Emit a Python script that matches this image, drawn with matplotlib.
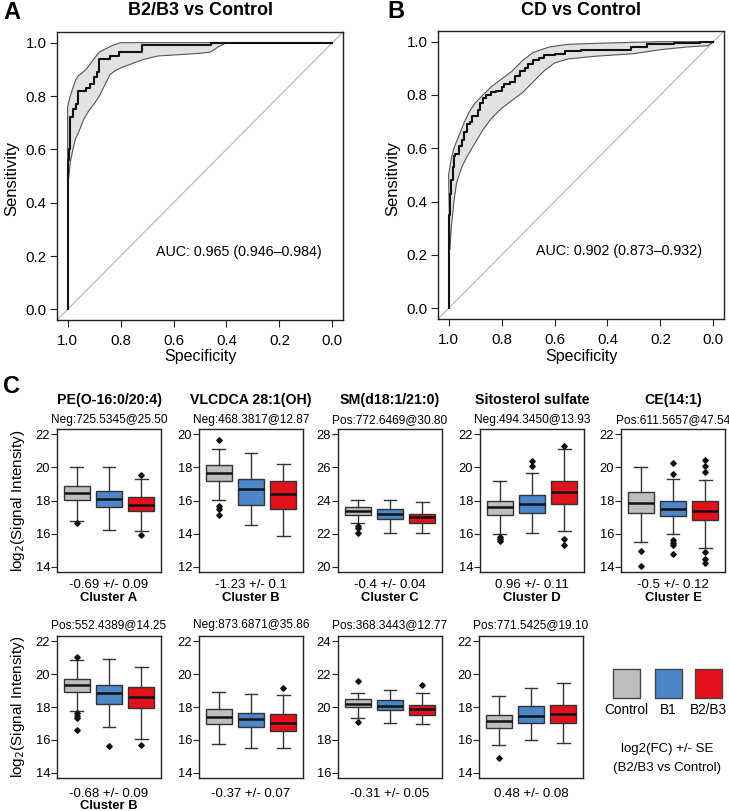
#!/usr/bin/env python3
# -*- coding: utf-8 -*-
"""
ROC 曲线 + 代谢物箱线图 复刻
"""

import matplotlib
matplotlib.use('Agg')
import matplotlib.pyplot as plt
from matplotlib.patches import Rectangle

plt.rcParams['font.family'] = ['Liberation Sans', 'DejaVu Sans']

W, H = 729, 811

# ---------- ROC 数据 (specificity, sensitivity) ----------
roc_a_spec = [1.0, 1.0, 0.995, 0.995, 0.99, 0.99, 0.98, 0.98, 0.97, 0.97, 0.962, 0.962,
              0.931, 0.931, 0.915, 0.915, 0.90, 0.90, 0.89, 0.89, 0.88, 0.88, 0.84, 0.84,
              0.805, 0.805, 0.72, 0.72, 0.46, 0.46, 0.0]
roc_a_sens = [0.0, 0.56, 0.56, 0.60, 0.60, 0.72, 0.72, 0.75, 0.75, 0.77, 0.77, 0.82,
              0.82, 0.83, 0.83, 0.845, 0.845, 0.87, 0.87, 0.89, 0.89, 0.937, 0.937, 0.95,
              0.95, 0.965, 0.965, 0.99, 0.99, 1.0, 1.0]
ci_a_up_spec = [1.0, 0.99, 0.98, 0.97, 0.96, 0.93, 0.90, 0.88, 0.86, 0.83, 0.80, 0.0]
ci_a_up_sens = [0.76, 0.80, 0.83, 0.86, 0.875, 0.90, 0.94, 0.965, 0.975, 0.99, 1.0, 1.0]
ci_a_lo_spec = [1.0, 0.995, 0.99, 0.98, 0.97, 0.96, 0.94, 0.92, 0.90, 0.88, 0.86, 0.84,
                0.82, 0.80, 0.76, 0.72, 0.66, 0.58, 0.50, 0.46, 0.43, 0.40, 0.0]
ci_a_lo_sens = [0.47, 0.50, 0.55, 0.60, 0.64, 0.66, 0.71, 0.745, 0.77, 0.80, 0.84, 0.88,
                0.895, 0.905, 0.92, 0.935, 0.95, 0.955, 0.96, 0.965, 0.985, 1.0, 1.0]

roc_b_spec = [1.0, 1.0, 0.995, 0.99, 0.985, 0.98, 0.975, 0.96, 0.95, 0.94, 0.93, 0.92,
              0.91, 0.89, 0.88, 0.87, 0.86, 0.84, 0.82, 0.80, 0.79, 0.77, 0.75, 0.73,
              0.71, 0.70, 0.68, 0.66, 0.64, 0.60, 0.56, 0.50, 0.40, 0.31, 0.25, 0.15,
              0.05, 0.0]
roc_b_sens = [0.0, 0.27, 0.35, 0.43, 0.48, 0.53, 0.57, 0.58, 0.61, 0.63, 0.66, 0.69,
              0.70, 0.72, 0.745, 0.77, 0.79, 0.80, 0.81, 0.815, 0.83, 0.84, 0.85, 0.87,
              0.89, 0.90, 0.915, 0.93, 0.94, 0.95, 0.955, 0.965, 0.968, 0.968, 0.98, 0.99,
              0.995, 1.0]
ci_b_up_spec = [1.0, 0.99, 0.98, 0.96, 0.94, 0.92, 0.90, 0.87, 0.84, 0.80, 0.76, 0.72,
                0.68, 0.62, 0.55, 0.40, 0.20, 0.0]
ci_b_up_sens = [0.50, 0.56, 0.60, 0.65, 0.70, 0.74, 0.77, 0.80, 0.83, 0.86, 0.89, 0.93,
                0.96, 0.98, 0.99, 0.995, 1.0, 1.0]
ci_b_lo_spec = [0.995, 0.99, 0.98, 0.97, 0.95, 0.93, 0.90, 0.87, 0.84, 0.80, 0.76, 0.72,
                0.68, 0.64, 0.60, 0.55, 0.45, 0.30, 0.20, 0.10, 0.02, 0.0]
ci_b_lo_sens = [0.22, 0.30, 0.40, 0.47, 0.53, 0.57, 0.62, 0.67, 0.71, 0.75, 0.78, 0.81,
                0.85, 0.89, 0.92, 0.935, 0.945, 0.955, 0.97, 0.98, 0.985, 1.0]

roc_titles = ['B2/B3 vs Control', 'CD vs Control']
auc_texts = ['AUC: 0.965 (0.946\u20130.984)', 'AUC: 0.902 (0.873\u20130.932)']

# ---------- 箱线图数据 (Control, B1, B2/B3) ----------
titles = ['PE(O-16:0/20:4)', 'VLCDCA 28:1(OH)', 'SM(d18:1/21:0)', 'Sitosterol sulfate',
          'CE(14:1)', '', '', '', '']
features = ['Neg:725.5345@25.50', 'Neg:468.3817@12.87', 'Pos:772.6469@30.80',
            'Neg:494.3450@13.93', 'Pos:611.5657@47.54', 'Pos:552.4389@14.25',
            'Neg:873.6871@35.86', 'Pos:368.3443@12.77', 'Pos:771.5425@19.10']
fold_changes = ['-0.69 +/- 0.09', '-1.23 +/- 0.1', '-0.4 +/- 0.04', '0.96 +/- 0.11',
                '-0.5 +/- 0.12', '-0.68 +/- 0.09', '-0.37 +/- 0.07', '-0.31 +/- 0.05',
                '0.48 +/- 0.08']
clusters = ['Cluster A', 'Cluster B', 'Cluster C', 'Cluster D', 'Cluster E',
            'Cluster B', '', '', '']
y_ranges = [(14, 22), (12, 20), (20, 28), (14, 22), (14, 22),
            (14, 22), (14, 22), (16, 24), (14, 22)]

medians = [[18.48, 18.10, 17.72], [17.67, 16.70, 16.41], [23.35, 23.17, 22.99],
           [17.59, 17.80, 18.53], [17.82, 17.51, 17.35], [19.35, 18.88, 18.63],
           [17.37, 17.29, 17.04], [20.21, 20.09, 19.87], [17.14, 17.45, 17.59]]
q1 = [[18.04, 17.62, 17.36], [17.15, 15.75, 15.46], [23.15, 22.87, 22.67],
      [17.14, 17.24, 17.80], [17.24, 17.04, 16.84], [18.90, 18.20, 17.96],
      [16.94, 16.76, 16.55], [19.99, 19.79, 19.53], [16.74, 17.00, 17.02]]
q3 = [[18.90, 18.60, 18.20], [18.14, 17.32, 17.18], [23.58, 23.49, 23.21],
      [18.00, 18.33, 19.18], [18.53, 18.00, 17.98], [19.69, 19.33, 19.24],
      [17.86, 17.65, 17.57], [20.46, 20.40, 20.15], [17.53, 18.07, 18.15]]
whis_lo = [[16.78, 16.20, 16.18], [16.02, 14.50, 13.86], [22.65, 22.06, 22.06],
           [16.00, 16.06, 16.18], [15.51, 16.00, 15.12], [17.78, 16.76, 16.08],
           [15.73, 15.51, 15.51], [19.34, 19.02, 18.98], [15.70, 15.97, 15.83]]
whis_hi = [[20.04, 20.02, 19.30], [19.11, 18.87, 18.19], [24.06, 24.04, 23.90],
           [19.20, 19.67, 21.14], [20.00, 19.29, 19.24], [20.84, 20.92, 20.41],
           [18.94, 18.78, 18.73], [20.86, 21.06, 20.86], [18.64, 19.17, 19.47]]
outliers = [
    [[16.66], [], [19.54, 15.94]],
    [[19.65, 15.67, 15.50, 15.11], [], []],
    [[22.44, 22.32, 22.04], [], []],
    [[15.80, 15.67, 15.53], [20.39, 20.06], [21.31, 15.67, 15.33]],
    [[14.96, 14.02], [20.27, 19.61, 15.61, 15.41, 15.29, 14.78],
     [20.47, 20.06, 19.71, 14.86, 14.45, 14.24]],
    [[21.02, 17.61, 17.47, 17.35, 16.63], [15.61], [15.67]],
    [[], [], [19.14]],
    [[21.61, 19.08], [], [21.31]],
    [[14.87], [], []],
]

groups = ['Control', 'B1', 'B2/B3']
group_colors = ['#BEBEBE', '#4A86C8', '#E3111B']


def px_axes(fig, x0, y0, x1, y1):
    """按像素位置添加坐标轴"""
    return fig.add_axes([x0 / W, 1 - y1 / H, (x1 - x0) / W, (y1 - y0) / H])


def draw_roc(ax, spec, sens, up_spec, up_sens, lo_spec, lo_sens, auc_text, step=False):
    ax.plot([1.04, -0.04], [-0.04, 1.04], color='#BBBBBB', lw=0.9, zorder=1)
    poly_x = list(up_spec) + list(lo_spec)[::-1]
    poly_y = list(up_sens) + list(lo_sens)[::-1]
    ax.fill(poly_x, poly_y, facecolor='#E2E2E2', edgecolor='#555555', lw=0.8, zorder=2)
    ax.plot(spec, sens, color='#111111', lw=1.5, zorder=3,
            drawstyle='steps-pre' if step else 'default')
    ax.text(0.355, 0.215, auc_text, ha='center', va='center', fontsize=10.3)
    ax.set_xlim(1.04, -0.04)
    ax.set_ylim(-0.04, 1.04)
    ticks = [0, 0.2, 0.4, 0.6, 0.8, 1.0]
    ax.set_xticks(ticks)
    ax.set_yticks(ticks)
    ax.set_xticklabels([f'{t:.1f}' for t in ticks])
    ax.set_yticklabels([f'{t:.1f}' for t in ticks])
    ax.tick_params(direction='out', length=5, width=0.8, labelsize=10.8, color='#222222')
    ax.tick_params(axis='x', pad=5)
    ax.tick_params(axis='y', pad=2.5)
    for s in ax.spines.values():
        s.set_color('#222222')
        s.set_linewidth(1.0)


def draw_box(ax, i):
    stats = []
    for g in range(3):
        stats.append({
            'med': medians[i][g], 'q1': q1[i][g], 'q3': q3[i][g],
            'whislo': whis_lo[i][g], 'whishi': whis_hi[i][g],
            'fliers': outliers[i][g],
        })
    bp = ax.bxp(stats, positions=[1, 2, 3], widths=0.8, capwidths=0.4,
                patch_artist=True, showfliers=True,
                boxprops=dict(edgecolor='#333333', linewidth=1.0),
                medianprops=dict(color='#111111', linewidth=1.8),
                whiskerprops=dict(color='#333333', linewidth=1.0),
                capprops=dict(color='#333333', linewidth=1.0),
                flierprops=dict(marker='D', markersize=2.8, markerfacecolor='#111111',
                                markeredgecolor='#111111', linestyle='none'))
    for patch, c in zip(bp['boxes'], group_colors):
        patch.set_facecolor(c)
    lo, hi = y_ranges[i]
    pad = (hi - lo) * 0.04
    ax.set_ylim(lo - pad, hi + pad)
    ax.set_yticks(list(range(lo, hi + 1, 2)))
    ax.set_xlim(0.38, 3.62)
    ax.set_xticks([])
    ax.tick_params(axis='y', direction='out', length=4, width=0.8, labelsize=9.3,
                   pad=1, color='#222222')
    for s in ax.spines.values():
        s.set_color('#222222')
        s.set_linewidth(1.0)


def main():
    fig = plt.figure(figsize=(W / 100, H / 100), dpi=100)

    # ROC 面板
    roc_boxes = [(57, 32, 343, 320), (438, 31, 724, 319)]
    roc_data = [
        (roc_a_spec, roc_a_sens, ci_a_up_spec, ci_a_up_sens, ci_a_lo_spec, ci_a_lo_sens),
        (roc_b_spec, roc_b_sens, ci_b_up_spec, ci_b_up_sens, ci_b_lo_spec, ci_b_lo_sens),
    ]
    for k, (bx, d) in enumerate(zip(roc_boxes, roc_data)):
        ax = px_axes(fig, *bx)
        draw_roc(ax, *d, auc_texts[k], step=(k == 1))
        cx = (bx[0] + bx[2]) / 2
        fig.text(cx / W, 1 - 15 / H, roc_titles[k], ha='center', va='baseline',
                 fontsize=13, fontweight='bold')
        fig.text(cx / W, 1 - 361 / H, 'Specificity', ha='center', va='baseline',
                 fontsize=11.5)
        fig.text((bx[0] - 45) / W, 1 - 179 / H, 'Sensitivity', ha='center', va='center',
                 rotation=90, fontsize=12)

    fig.text(3 / W, 1 - 19 / H, 'A', ha='left', va='baseline', fontsize=17, fontweight='bold')
    fig.text(387 / W, 1 - 18 / H, 'B', ha='left', va='baseline', fontsize=17, fontweight='bold')
    fig.text(3 / W, 1 - 393 / H, 'C', ha='left', va='baseline', fontsize=17, fontweight='bold')

    # 箱线图面板
    row_y = [(429, 572), (636, 778)]
    lefts = [[57, 199, 338, 480, 621], [57, 199, 338, 479]]
    sub_base = [423, 628]
    fc_base = [588, 797]
    cl_base = [601, 809]
    i = 0
    for r in range(2):
        y0, y1 = row_y[r]
        for x0 in lefts[r]:
            ax = px_axes(fig, x0, y0, x0 + 104, y1)
            draw_box(ax, i)
            cx = (x0 + 52) / W
            if titles[i]:
                fig.text(cx, 1 - 404 / H, titles[i], ha='center', va='baseline',
                         fontsize=10.2, fontweight='bold')
            fig.text(cx, 1 - sub_base[r] / H, features[i], ha='center', va='baseline',
                     fontsize=8.6)
            fig.text(cx, 1 - fc_base[r] / H, fold_changes[i], ha='center', va='baseline',
                     fontsize=9.5)
            if clusters[i]:
                fig.text(cx, 1 - cl_base[r] / H, clusters[i], ha='center', va='baseline',
                         fontsize=9.4, fontweight='bold')
            i += 1
        fig.text(18 / W, 1 - (y0 + y1) / 2 / H, r'log$_2$(Signal Intensity)',
                 ha='center', va='center', rotation=90, fontsize=11)

    # 图例
    lg = fig.add_axes([0, 0, 1, 1])
    lg.set_xlim(0, W)
    lg.set_ylim(H, 0)
    lg.axis('off')
    sq_x = [613, 655, 695]
    for x, c, g in zip(sq_x, group_colors, groups):
        lg.add_patch(Rectangle((x, 669), 27, 29, facecolor=c, edgecolor='#444444', lw=1.0))
        lg.text(x + 13.5, 710.5, g, ha='center', va='center', fontsize=9.8)
    lg.text(667, 749, 'log2(FC) +/- SE', ha='center', va='center', fontsize=9.5)
    lg.text(667, 768, '(B2/B3 vs Control)', ha='center', va='center', fontsize=9.5)

    fig.savefig('out.png', dpi=100)
    plt.close(fig)


if __name__ == '__main__':
    main()
